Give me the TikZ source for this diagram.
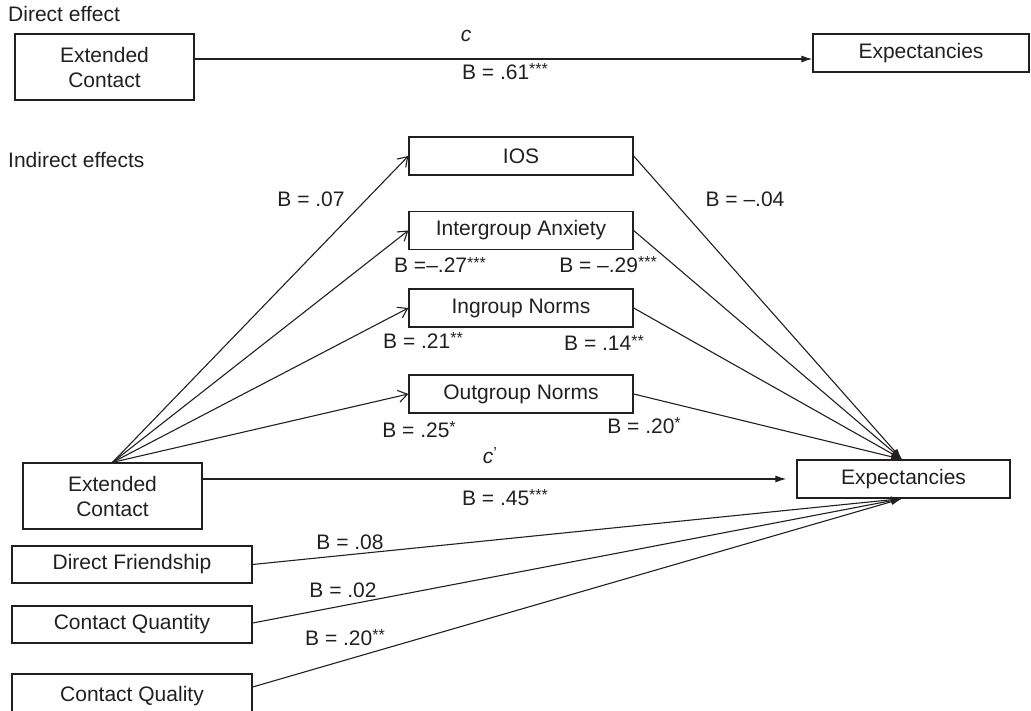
\documentclass[tikz,border=0pt]{standalone}
\usepackage{fontspec}
\setmainfont{Liberation Sans}
\usetikzlibrary{arrows.meta}
\definecolor{ink}{HTML}{231F20}
\newcommand{\sig}[1]{\raisebox{0.45ex}{\fontsize{16}{16}\selectfont #1}}
\begin{document}
\begin{tikzpicture}[x=1pt,y=-1pt,
  every node/.style={font=\fontsize{21}{25}\selectfont, text=ink},
  box/.style={draw=ink, line width=1.3pt, minimum width=224pt, minimum height=38pt, inner sep=0pt, align=center},
  lbl/.style={inner sep=0pt, anchor=west},
  con/.style={draw=ink, line width=1.1pt},
  openarr/.style={con, -{Straight Barb[length=9pt,width=12pt,line width=1.1pt]}},
  fillarr/.style={con, -{Latex[length=11pt,width=7pt]}}
]
\useasboundingbox (0,0) rectangle (1031,711);
\clip (0,0) rectangle (1031,711);

% Direct effect
\node[lbl] (hd) at (8,14) {Direct effect};
\node[box, minimum width=179pt, minimum height=66pt] (ec1) at (104.5,67) {Extended\\Contact};
\node[box, minimum width=216pt] (ex1) at (921,53) {Expectancies};
\draw[fillarr] (ec1.east |- 0,59) -- (ex1.west |- 0,59);
\node (c) at (466,36) {\itshape c};
\node (b61) at (505,72) {B = .61\sig{***}};

% Indirect effects
\node[lbl] (hi) at (8,160) {Indirect effects};
\node[box] (ios) at (521,156) {IOS};
\node[box] (ia) at (521,230.5) {Intergroup Anxiety};
\node[box] (ing) at (521,308) {Ingroup Norms};
\node[box] (og) at (521,394) {Outgroup Norms};

\node[box, minimum width=179pt, minimum height=66pt] (ec2) at (112.5,496) {Extended\\Contact};
\node[box, minimum width=213pt] (ex2) at (903.5,479) {Expectancies};

\node[box, minimum width=240pt, minimum height=37pt] (df) at (132,564.5) {Direct Friendship};
\node[box, minimum width=240pt, minimum height=37pt] (cqn) at (132,624.5) {Contact Quantity};
\node[box, minimum width=240pt, minimum height=44pt] (cql) at (132,696) {Contact Quality};

\coordinate (src) at (ec2.north);
\coordinate (tgtT) at ([xshift=-1.5pt]ex2.north);
\coordinate (tgtB) at ([xshift=-1.5pt]ex2.south);

% a paths
\draw[openarr] (src) -- (ios.west);
\draw[openarr] (src) -- (ia.west);
\draw[openarr] (src) -- (ing.west);
\draw[openarr] (src) -- (og.west);

% b paths
\draw[fillarr] (ios.east) -- (tgtT);
\draw[fillarr] (ia.east) -- (tgtT);
\draw[fillarr] (ing.east) -- (tgtT);
\draw[fillarr] (og.east) -- (tgtT);

% c'
\draw[fillarr, shorten >=10pt] (ec2.east |- ex2.west) -- (ex2.west);
\node (cp) at (490,456) {\itshape c\upshape\sig{’}};
\node (b45) at (505,498) {B = .45\sig{***}};

% covariates
\draw[fillarr] (df.east) -- (tgtB);
\draw[fillarr] (cqn.east |- 0,623) -- (tgtB);
\draw[fillarr] (cql.east |- 0,687) -- (tgtB);

% labels
\node (b07) at (311,199) {B = .07};
\node (b04) at (745,199) {B = \textendash.04};
\node (b27) at (440,265) {B =\textendash.27\sig{***}};
\node (b29) at (608,265) {B = \textendash.29\sig{***}};
\node (b21) at (423,340) {B = .21\sig{**}};
\node (b14) at (604,343) {B = .14\sig{**}};
\node (b25) at (419,430) {B = .25\sig{*}};
\node (b20) at (644,426) {B = .20\sig{*}};
\node (b08) at (350,542) {B = .08};
\node (b02) at (343,590) {B = .02};
\node (b20b) at (345,638) {B = .20\sig{**}};
\end{tikzpicture}
\end{document}
